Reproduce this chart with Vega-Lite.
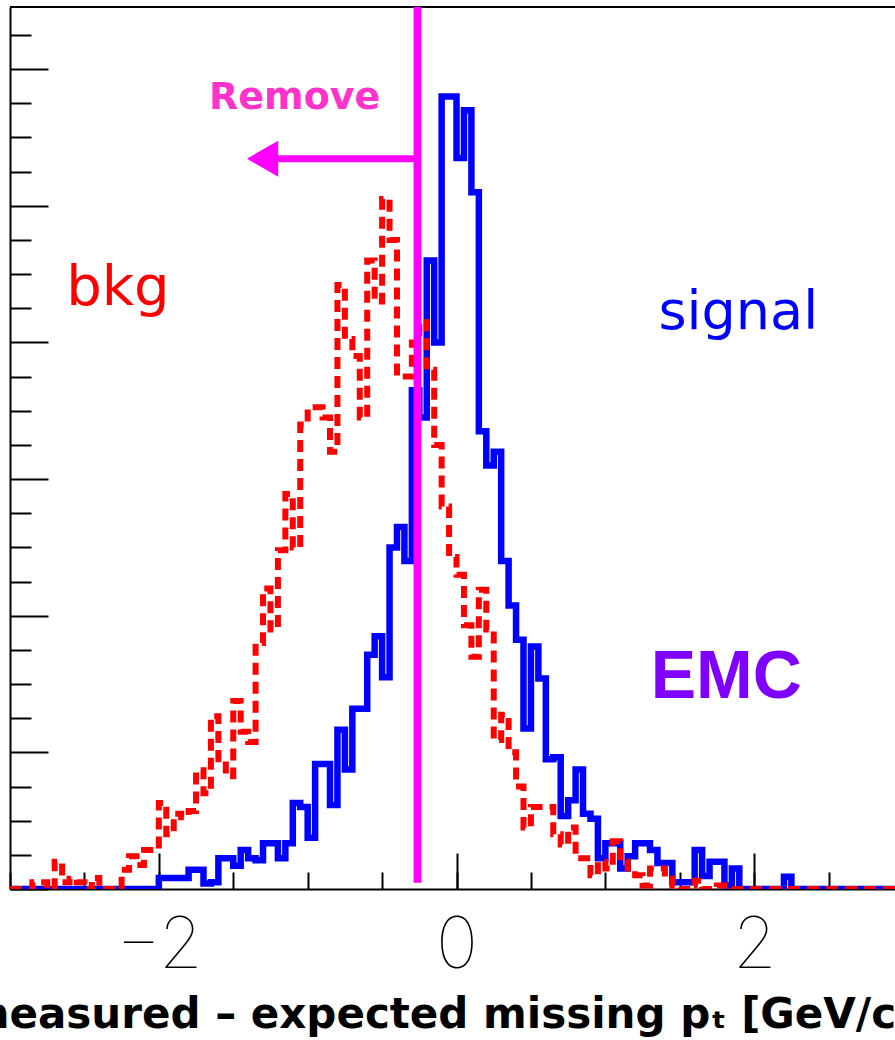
{
  "$schema": "https://vega.github.io/schema/vega-lite/v6.json",
  "width": 885,
  "height": 882,
  "autosize": {"type": "none"},
  "padding": {"left": 10, "top": 7, "right": 0, "bottom": 151},
  "background": "white",
  "config": {"view": {"stroke": null}},
  "resolve": {"axis": {"x": "independent", "y": "independent"}},
  "datasets": {
    "hist": [
      {"series": "signal", "x": -3.00, "count": 0}, {"series": "signal", "x": -2.95, "count": 0}, {"series": "signal", "x": -2.90, "count": 0}, {"series": "signal", "x": -2.85, "count": 0},
      {"series": "signal", "x": -2.80, "count": 0}, {"series": "signal", "x": -2.75, "count": 0}, {"series": "signal", "x": -2.70, "count": 0}, {"series": "signal", "x": -2.65, "count": 0},
      {"series": "signal", "x": -2.60, "count": 0}, {"series": "signal", "x": -2.55, "count": 0}, {"series": "signal", "x": -2.50, "count": 0}, {"series": "signal", "x": -2.45, "count": 0},
      {"series": "signal", "x": -2.40, "count": 0}, {"series": "signal", "x": -2.35, "count": 0}, {"series": "signal", "x": -2.30, "count": 0}, {"series": "signal", "x": -2.25, "count": 0},
      {"series": "signal", "x": -2.20, "count": 0}, {"series": "signal", "x": -2.15, "count": 0}, {"series": "signal", "x": -2.10, "count": 0}, {"series": "signal", "x": -2.05, "count": 0},
      {"series": "signal", "x": -2.00, "count": 1.6}, {"series": "signal", "x": -1.95, "count": 1.6}, {"series": "signal", "x": -1.90, "count": 1.6}, {"series": "signal", "x": -1.85, "count": 1.6},
      {"series": "signal", "x": -1.80, "count": 2.8}, {"series": "signal", "x": -1.75, "count": 2.8}, {"series": "signal", "x": -1.70, "count": 0.8}, {"series": "signal", "x": -1.65, "count": 1.0},
      {"series": "signal", "x": -1.60, "count": 4.5}, {"series": "signal", "x": -1.55, "count": 4.5}, {"series": "signal", "x": -1.50, "count": 3.4}, {"series": "signal", "x": -1.45, "count": 5.7},
      {"series": "signal", "x": -1.40, "count": 4.5}, {"series": "signal", "x": -1.35, "count": 4.2}, {"series": "signal", "x": -1.30, "count": 6.7}, {"series": "signal", "x": -1.25, "count": 6.7},
      {"series": "signal", "x": -1.20, "count": 4.5}, {"series": "signal", "x": -1.15, "count": 6.7}, {"series": "signal", "x": -1.10, "count": 12.6}, {"series": "signal", "x": -1.05, "count": 12},
      {"series": "signal", "x": -1.00, "count": 7.5}, {"series": "signal", "x": -0.95, "count": 18.3}, {"series": "signal", "x": -0.90, "count": 18.3}, {"series": "signal", "x": -0.85, "count": 12.3},
      {"series": "signal", "x": -0.80, "count": 23.3}, {"series": "signal", "x": -0.75, "count": 17.5}, {"series": "signal", "x": -0.70, "count": 26.4}, {"series": "signal", "x": -0.65, "count": 26.4},
      {"series": "signal", "x": -0.60, "count": 34.3}, {"series": "signal", "x": -0.55, "count": 37}, {"series": "signal", "x": -0.50, "count": 31}, {"series": "signal", "x": -0.45, "count": 50},
      {"series": "signal", "x": -0.40, "count": 53}, {"series": "signal", "x": -0.35, "count": 48}, {"series": "signal", "x": -0.30, "count": 73}, {"series": "signal", "x": -0.25, "count": 69},
      {"series": "signal", "x": -0.20, "count": 92}, {"series": "signal", "x": -0.15, "count": 80}, {"series": "signal", "x": -0.10, "count": 116}, {"series": "signal", "x": -0.05, "count": 116},
      {"series": "signal", "x": 0.00, "count": 107}, {"series": "signal", "x": 0.05, "count": 114}, {"series": "signal", "x": 0.10, "count": 102}, {"series": "signal", "x": 0.15, "count": 67},
      {"series": "signal", "x": 0.20, "count": 62}, {"series": "signal", "x": 0.25, "count": 64}, {"series": "signal", "x": 0.30, "count": 48}, {"series": "signal", "x": 0.35, "count": 41.5},
      {"series": "signal", "x": 0.40, "count": 36.5}, {"series": "signal", "x": 0.45, "count": 23.5}, {"series": "signal", "x": 0.50, "count": 35.5}, {"series": "signal", "x": 0.55, "count": 30.8},
      {"series": "signal", "x": 0.60, "count": 19}, {"series": "signal", "x": 0.65, "count": 19.3}, {"series": "signal", "x": 0.70, "count": 10.7}, {"series": "signal", "x": 0.75, "count": 13},
      {"series": "signal", "x": 0.80, "count": 17.5}, {"series": "signal", "x": 0.85, "count": 11}, {"series": "signal", "x": 0.90, "count": 10.3}, {"series": "signal", "x": 0.95, "count": 4.5},
      {"series": "signal", "x": 1.00, "count": 6.7}, {"series": "signal", "x": 1.05, "count": 6.7}, {"series": "signal", "x": 1.10, "count": 3}, {"series": "signal", "x": 1.15, "count": 4.8},
      {"series": "signal", "x": 1.20, "count": 6.7}, {"series": "signal", "x": 1.25, "count": 6.7}, {"series": "signal", "x": 1.30, "count": 5.7}, {"series": "signal", "x": 1.35, "count": 3.8},
      {"series": "signal", "x": 1.40, "count": 3.8}, {"series": "signal", "x": 1.45, "count": 1}, {"series": "signal", "x": 1.50, "count": 1}, {"series": "signal", "x": 1.55, "count": 1},
      {"series": "signal", "x": 1.60, "count": 5.7}, {"series": "signal", "x": 1.65, "count": 1.9}, {"series": "signal", "x": 1.70, "count": 4}, {"series": "signal", "x": 1.75, "count": 4},
      {"series": "signal", "x": 1.80, "count": 0.5}, {"series": "signal", "x": 1.85, "count": 3}, {"series": "signal", "x": 1.90, "count": 0}, {"series": "signal", "x": 1.95, "count": 0},
      {"series": "signal", "x": 2.00, "count": 0}, {"series": "signal", "x": 2.05, "count": 0}, {"series": "signal", "x": 2.10, "count": 0}, {"series": "signal", "x": 2.15, "count": 0},
      {"series": "signal", "x": 2.20, "count": 1.8}, {"series": "signal", "x": 2.25, "count": 0}, {"series": "signal", "x": 2.30, "count": 0}, {"series": "signal", "x": 2.35, "count": 0},
      {"series": "signal", "x": 2.40, "count": 0}, {"series": "signal", "x": 2.45, "count": 0}, {"series": "signal", "x": 2.50, "count": 0}, {"series": "signal", "x": 2.55, "count": 0},
      {"series": "signal", "x": 2.60, "count": 0}, {"series": "signal", "x": 2.65, "count": 0}, {"series": "signal", "x": 2.70, "count": 0}, {"series": "signal", "x": 2.75, "count": 0},
      {"series": "signal", "x": 2.80, "count": 0}, {"series": "signal", "x": 2.85, "count": 0}, {"series": "signal", "x": 2.90, "count": 0}, {"series": "signal", "x": 2.95, "count": 0},
      {"series": "signal", "x": 3.00, "count": 0},

      {"series": "bkg", "x": -3.00, "count": 0}, {"series": "bkg", "x": -2.95, "count": 0}, {"series": "bkg", "x": -2.90, "count": 0}, {"series": "bkg", "x": -2.85, "count": 1},
      {"series": "bkg", "x": -2.80, "count": 1}, {"series": "bkg", "x": -2.75, "count": 0}, {"series": "bkg", "x": -2.70, "count": 4}, {"series": "bkg", "x": -2.65, "count": 1},
      {"series": "bkg", "x": -2.60, "count": 1.5}, {"series": "bkg", "x": -2.55, "count": 1}, {"series": "bkg", "x": -2.50, "count": 0}, {"series": "bkg", "x": -2.45, "count": 1.6},
      {"series": "bkg", "x": -2.40, "count": 0}, {"series": "bkg", "x": -2.35, "count": 0}, {"series": "bkg", "x": -2.30, "count": 0}, {"series": "bkg", "x": -2.25, "count": 2.8},
      {"series": "bkg", "x": -2.20, "count": 4.8}, {"series": "bkg", "x": -2.15, "count": 3.5}, {"series": "bkg", "x": -2.10, "count": 5.7}, {"series": "bkg", "x": -2.05, "count": 5.7},
      {"series": "bkg", "x": -2.00, "count": 12.6}, {"series": "bkg", "x": -1.95, "count": 8}, {"series": "bkg", "x": -1.90, "count": 11}, {"series": "bkg", "x": -1.85, "count": 10.5},
      {"series": "bkg", "x": -1.80, "count": 11.4}, {"series": "bkg", "x": -1.75, "count": 17.4}, {"series": "bkg", "x": -1.70, "count": 14}, {"series": "bkg", "x": -1.65, "count": 25.3},
      {"series": "bkg", "x": -1.60, "count": 19}, {"series": "bkg", "x": -1.55, "count": 16.5}, {"series": "bkg", "x": -1.50, "count": 27.5}, {"series": "bkg", "x": -1.45, "count": 23},
      {"series": "bkg", "x": -1.40, "count": 21.5}, {"series": "bkg", "x": -1.35, "count": 36}, {"series": "bkg", "x": -1.30, "count": 44}, {"series": "bkg", "x": -1.25, "count": 38},
      {"series": "bkg", "x": -1.20, "count": 49.6}, {"series": "bkg", "x": -1.15, "count": 57.8}, {"series": "bkg", "x": -1.10, "count": 50}, {"series": "bkg", "x": -1.05, "count": 68},
      {"series": "bkg", "x": -1.00, "count": 70.5}, {"series": "bkg", "x": -0.95, "count": 70.5}, {"series": "bkg", "x": -0.90, "count": 69}, {"series": "bkg", "x": -0.85, "count": 64},
      {"series": "bkg", "x": -0.80, "count": 88.4}, {"series": "bkg", "x": -0.75, "count": 80.5}, {"series": "bkg", "x": -0.70, "count": 78}, {"series": "bkg", "x": -0.65, "count": 69},
      {"series": "bkg", "x": -0.60, "count": 92}, {"series": "bkg", "x": -0.55, "count": 86}, {"series": "bkg", "x": -0.50, "count": 101}, {"series": "bkg", "x": -0.45, "count": 95},
      {"series": "bkg", "x": -0.40, "count": 75}, {"series": "bkg", "x": -0.35, "count": 75}, {"series": "bkg", "x": -0.30, "count": 80}, {"series": "bkg", "x": -0.25, "count": 83},
      {"series": "bkg", "x": -0.20, "count": 76}, {"series": "bkg", "x": -0.15, "count": 65}, {"series": "bkg", "x": -0.10, "count": 56}, {"series": "bkg", "x": -0.05, "count": 48.6},
      {"series": "bkg", "x": 0.00, "count": 46}, {"series": "bkg", "x": 0.05, "count": 38.6}, {"series": "bkg", "x": 0.10, "count": 34}, {"series": "bkg", "x": 0.15, "count": 43.8},
      {"series": "bkg", "x": 0.20, "count": 38}, {"series": "bkg", "x": 0.25, "count": 21.8}, {"series": "bkg", "x": 0.30, "count": 25.5}, {"series": "bkg", "x": 0.35, "count": 20},
      {"series": "bkg", "x": 0.40, "count": 15}, {"series": "bkg", "x": 0.45, "count": 9}, {"series": "bkg", "x": 0.50, "count": 12}, {"series": "bkg", "x": 0.55, "count": 12},
      {"series": "bkg", "x": 0.60, "count": 12}, {"series": "bkg", "x": 0.65, "count": 8}, {"series": "bkg", "x": 0.70, "count": 6.5}, {"series": "bkg", "x": 0.75, "count": 9},
      {"series": "bkg", "x": 0.80, "count": 4.5}, {"series": "bkg", "x": 0.85, "count": 4.5}, {"series": "bkg", "x": 0.90, "count": 2}, {"series": "bkg", "x": 0.95, "count": 4},
      {"series": "bkg", "x": 1.00, "count": 3}, {"series": "bkg", "x": 1.05, "count": 7}, {"series": "bkg", "x": 1.10, "count": 4}, {"series": "bkg", "x": 1.15, "count": 3},
      {"series": "bkg", "x": 1.20, "count": 2}, {"series": "bkg", "x": 1.25, "count": 0.5}, {"series": "bkg", "x": 1.30, "count": 3}, {"series": "bkg", "x": 1.35, "count": 3},
      {"series": "bkg", "x": 1.40, "count": 1.5}, {"series": "bkg", "x": 1.45, "count": 0.5}, {"series": "bkg", "x": 1.50, "count": 0}, {"series": "bkg", "x": 1.55, "count": 0.5},
      {"series": "bkg", "x": 1.60, "count": 1.2}, {"series": "bkg", "x": 1.65, "count": 0}, {"series": "bkg", "x": 1.70, "count": 0}, {"series": "bkg", "x": 1.75, "count": 0.5},
      {"series": "bkg", "x": 1.80, "count": 0.5}, {"series": "bkg", "x": 1.85, "count": 0}, {"series": "bkg", "x": 1.90, "count": 0}, {"series": "bkg", "x": 1.95, "count": 0},
      {"series": "bkg", "x": 2.00, "count": 0}, {"series": "bkg", "x": 2.05, "count": 0}, {"series": "bkg", "x": 2.10, "count": 0}, {"series": "bkg", "x": 2.15, "count": 0},
      {"series": "bkg", "x": 2.20, "count": 0}, {"series": "bkg", "x": 2.25, "count": 0}, {"series": "bkg", "x": 2.30, "count": 0}, {"series": "bkg", "x": 2.35, "count": 0},
      {"series": "bkg", "x": 2.40, "count": 0}, {"series": "bkg", "x": 2.45, "count": 0}, {"series": "bkg", "x": 2.50, "count": 0}, {"series": "bkg", "x": 2.55, "count": 0},
      {"series": "bkg", "x": 2.60, "count": 0}, {"series": "bkg", "x": 2.65, "count": 0}, {"series": "bkg", "x": 2.70, "count": 0}, {"series": "bkg", "x": 2.75, "count": 0},
      {"series": "bkg", "x": 2.80, "count": 0}, {"series": "bkg", "x": 2.85, "count": 0}, {"series": "bkg", "x": 2.90, "count": 0}, {"series": "bkg", "x": 2.95, "count": 0},
      {"series": "bkg", "x": 3.00, "count": 0}
    ]
  },
  "layer": [
    {
      "data": {"name": "hist"},
      "transform": [{"filter": "datum.series === 'signal'"}],
      "mark": {"type": "line", "interpolate": "step-after", "color": "#0000ff", "strokeWidth": 6.5, "strokeJoin": "miter", "strokeCap": "butt", "clip": true},
      "encoding": {
        "x": {
          "field": "x", "type": "quantitative",
          "scale": {"domain": [-3, 2.946], "nice": false, "zero": false},
          "axis": {
            "orient": "bottom",
            "values": [-2, 0, 2],
            "tickSize": -36,
            "tickColor": "black", "tickWidth": 2,
            "domainColor": "black", "domainWidth": 2,
            "grid": false,
            "labelExpr": "datum.value === -2 ? '\u22122' : datum.value === 0 ? '0' : datum.value === 2 ? '2' : ''",
            "labelFont": "Inter", "labelFontWeight": 100, "labelFontSize": 71, "labelColor": "black",
            "labelBaseline": "alphabetic", "labelPadding": 114,
            "labelFlush": false, "labelOverlap": false, "labelBound": false,
            "title": "measured \u2013 expected missing p\u209c [GeV/c]",
            "titleFont": "DejaVu Sans", "titleFontWeight": "bold", "titleFontSize": 42, "titleColor": "black",
            "titleBaseline": "alphabetic", "titleAlign": "center", "titleY": 138, "titleX": 430
          }
        },
        "y": {
          "field": "count", "type": "quantitative",
          "scale": {"domain": [0, 129.1], "nice": false, "zero": false},
          "axis": {
            "orient": "left",
            "values": [0, 20, 40, 60, 80, 100, 120],
            "tickSize": -38,
            "tickColor": "black", "tickWidth": 2,
            "domainColor": "black", "domainWidth": 2,
            "grid": false, "labels": false, "title": null
          }
        }
      }
    },
    {
      "data": {"name": "hist"},
      "transform": [{"filter": "datum.series === 'bkg'"}],
      "mark": {"type": "line", "interpolate": "step-after", "color": "#ff0000", "strokeWidth": 6, "strokeDash": [12, 7], "strokeJoin": "miter", "strokeCap": "butt", "clip": true},
      "encoding": {
        "x": {
          "field": "x", "type": "quantitative",
          "axis": {
            "orient": "bottom",
            "values": [-3, -2.5, -2, -1.5, -1, -0.5, 0, 0.5, 1, 1.5, 2, 2.5],
            "tickSize": -17, "tickColor": "black", "tickWidth": 2,
            "domain": false, "grid": false, "labels": false, "title": null
          }
        },
        "y": {
          "field": "count", "type": "quantitative",
          "axis": {
            "orient": "left",
            "values": [5, 10, 15, 25, 30, 35, 45, 50, 55, 65, 70, 75, 85, 90, 95, 105, 110, 115, 125],
            "tickSize": -21, "tickColor": "black", "tickWidth": 2,
            "domain": false, "grid": false, "labels": false, "title": null
          }
        }
      }
    },
    {
      "data": {"values": [{}]},
      "mark": {"type": "rule", "color": "black", "strokeWidth": 2},
      "encoding": {"y": {"datum": 129.1, "type": "quantitative", "axis": null}}
    },
    {
      "data": {"values": [{}]},
      "mark": {"type": "rule", "color": "#ff00ff", "strokeWidth": 8},
      "encoding": {
        "x": {"datum": -0.262, "type": "quantitative", "axis": null},
        "y": {"datum": 0.9, "type": "quantitative", "axis": null},
        "y2": {"datum": 129.1}
      }
    },
    {
      "data": {"values": [{}]},
      "mark": {"type": "rule", "color": "#ff00ff", "strokeWidth": 7},
      "encoding": {
        "x": {"datum": -1.2, "type": "quantitative", "axis": null},
        "x2": {"datum": -0.262},
        "y": {"datum": 106.9, "type": "quantitative", "axis": null}
      }
    },
    {
      "data": {"values": [{}]},
      "mark": {"type": "point", "shape": "triangle-left", "size": 1300, "filled": true, "color": "#ff00ff", "opacity": 1},
      "encoding": {
        "x": {"datum": -1.303, "type": "quantitative", "axis": null},
        "y": {"datum": 106.9, "type": "quantitative", "axis": null}
      }
    },
    {
      "data": {"values": [{}]},
      "mark": {"type": "text", "text": "Remove", "color": "#ff33cc", "font": "DejaVu Sans", "fontWeight": "bold", "fontSize": 38, "align": "center", "baseline": "alphabetic"},
      "encoding": {
        "x": {"datum": -1.087, "type": "quantitative", "axis": null},
        "y": {"datum": 114.1, "type": "quantitative", "axis": null}
      }
    },
    {
      "data": {"values": [{}]},
      "mark": {"type": "text", "text": "bkg", "color": "#ff0000", "font": "DejaVu Sans", "fontSize": 56, "align": "center", "baseline": "alphabetic"},
      "encoding": {
        "x": {"datum": -2.275, "type": "quantitative", "axis": null},
        "y": {"datum": 85.5, "type": "quantitative", "axis": null}
      }
    },
    {
      "data": {"values": [{}]},
      "mark": {"type": "text", "text": "signal", "color": "#0000ff", "font": "DejaVu Sans", "fontSize": 54, "align": "center", "baseline": "alphabetic"},
      "encoding": {
        "x": {"datum": 1.893, "type": "quantitative", "axis": null},
        "y": {"datum": 82.0, "type": "quantitative", "axis": null}
      }
    },
    {
      "data": {"values": [{}]},
      "mark": {"type": "text", "text": "EMC", "color": "#7f00ff", "font": "Liberation Sans", "fontWeight": "bold", "fontSize": 68, "align": "center", "baseline": "alphabetic"},
      "encoding": {
        "x": {"datum": 1.812, "type": "quantitative", "axis": null},
        "y": {"datum": 28.0, "type": "quantitative", "axis": null}
      }
    }
  ]
}
